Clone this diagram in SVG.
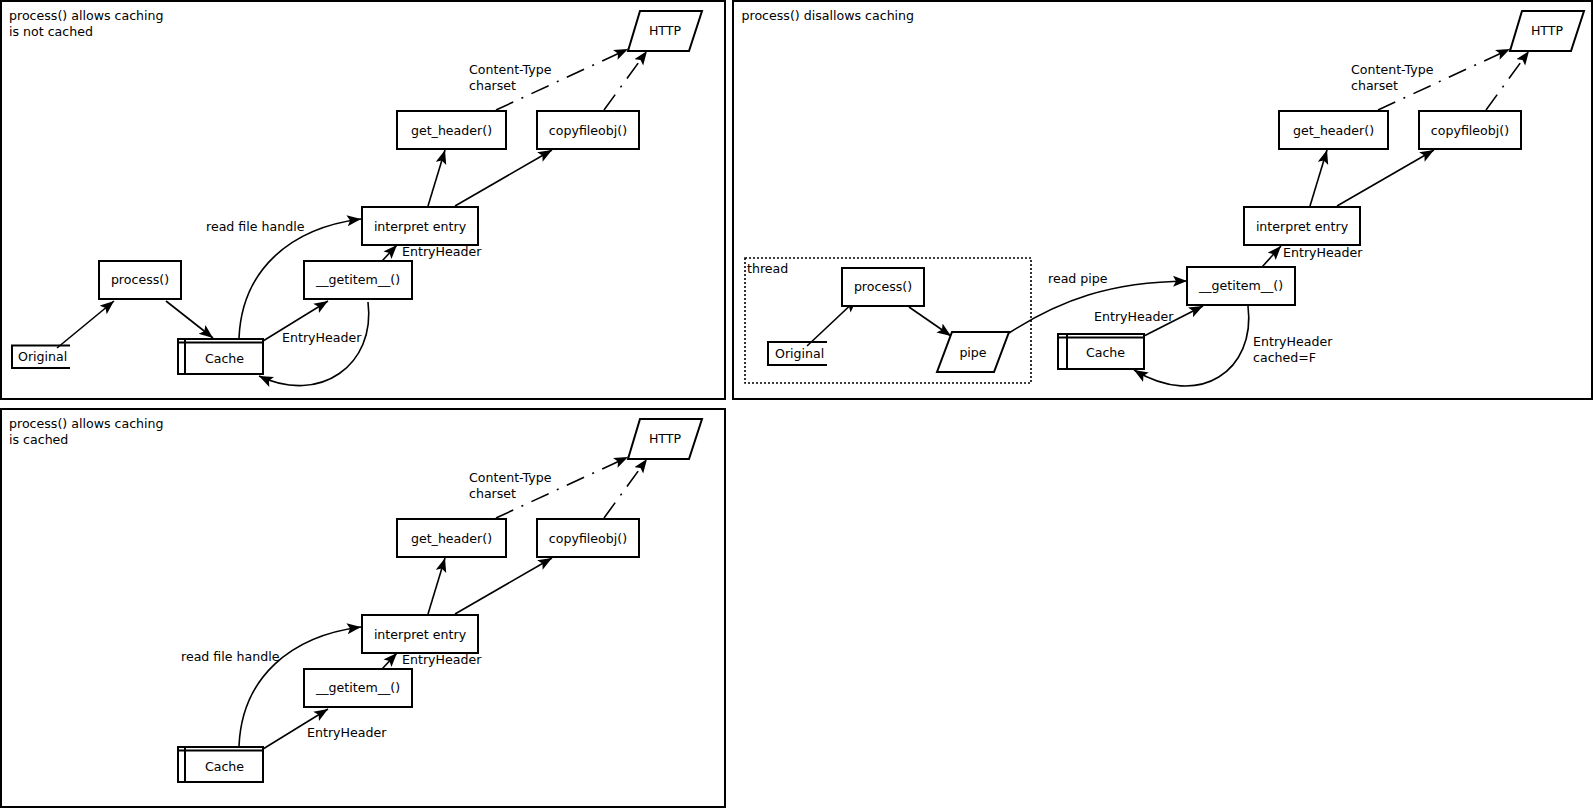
<svg xmlns="http://www.w3.org/2000/svg" width="1595" height="811" viewBox="0 0 1595 811">
<style>
text{font-family:"DejaVu Sans","Liberation Sans",sans-serif;font-size:12.6px;fill:#000}
.c{text-anchor:middle}
.box{fill:#fff;stroke:#000;stroke-width:2}
.frame{fill:#fff;stroke:#000;stroke-width:2}
.thr{fill:none;stroke:#000;stroke-width:1.6;stroke-dasharray:2 2}
.ln{fill:none;stroke:#000;stroke-width:1.6}
.e{fill:none;stroke:#000;stroke-width:1.6;marker-end:url(#ah)}
.dd{fill:none;stroke:#000;stroke-width:1.6;stroke-dasharray:19 9 2 9;marker-end:url(#ah)}
</style>
<defs>
<marker id="ah" markerUnits="userSpaceOnUse" markerWidth="16" markerHeight="12" refX="14" refY="5.5" orient="auto">
<path d="M0,0 L14,5.5 L0,11 L3,5.5 z" fill="#000"/>
</marker>
</defs>
<rect width="1595" height="811" fill="#fff"/>

<!-- Panel frames -->
<g id="panels">
<rect class="frame" x="1" y="1" width="724" height="398"/>
<rect class="frame" x="733" y="1" width="859" height="398"/>
<rect class="frame" x="1" y="409" width="724" height="398"/>
<text x="9" y="20">process() allows caching</text>
<text x="9" y="35.5">is not cached</text>
<text x="741.5" y="20">process() disallows caching</text>
<text x="9" y="428">process() allows caching</text>
<text x="9" y="443.5">is cached</text>
</g>

<!-- Panel 1 -->
<g id="p1">
<g id="p1-connectors">
<path class="e" d="M57,348 L114,301"/>
<path class="e" d="M166,301 L213,338"/>
<path class="e" d="M263,341 L328,301"/>
<path class="e" d="M239,338 C242,270 290,228 361,219"/>
<path class="e" d="M368,302 C376,365 320,405 259,376"/>
<path class="e" d="M382,261 L397,245"/>
<path class="e" d="M428,206 L445,150"/>
<path class="e" d="M455,206 L552,150"/>
<path class="dd" d="M496,110 L628,49"/>
<path class="dd" d="M604,110 L647,51"/>
<text x="206" y="231">read file handle</text>
<text x="282" y="341.5">EntryHeader</text>
<text x="402" y="256">EntryHeader</text>
<text x="469" y="73.5">Content-Type</text>
<text x="469" y="89.5">charset</text>
</g>
<g id="p1-original"><path class="ln" d="M70,345.5 H12 V368 H70" style="stroke-width:2"/><text x="18" y="361">Original</text></g>
<g id="p1-process"><rect class="box" x="99" y="261" width="82" height="38"/><text class="c" x="140" y="284">process()</text></g>
<g id="p1-cache"><rect class="box" x="178" y="339" width="85" height="35"/><path class="ln" d="M185,339 V374 M178,342.5 H263" style="stroke-width:2"/><text class="c" x="224.5" y="362.5">Cache</text></g>
<g id="p1-getitem"><rect class="box" x="304" y="261" width="108" height="38"/><text class="c" x="358" y="284">__getitem__()</text></g>
<g id="p1-interpret"><rect class="box" x="362" y="207" width="116" height="38"/><text class="c" x="420" y="230.5">interpret entry</text></g>
<g id="p1-getheader"><rect class="box" x="397" y="111" width="109" height="38"/><text class="c" x="451.5" y="134.5">get_header()</text></g>
<g id="p1-copyfileobj"><rect class="box" x="537" y="111" width="102" height="38"/><text class="c" x="588" y="134.5">copyfileobj()</text></g>
<g id="p1-http"><polygon class="box" points="640,11 702,11 689,51 628,51"/><text class="c" x="665" y="34.5">HTTP</text></g>
</g>

<!-- Panel 2 -->
<g id="p2">
<g id="p2-thread"><rect class="thr" x="745" y="258" width="286" height="125"/><text x="747" y="273">thread</text></g>
<g id="p2-connectors">
<path class="e" d="M807,346 L857,299"/>
<path class="e" d="M909,307 L951,336"/>
<path class="e" d="M1009,333 C1060,300 1110,282 1187,281"/>
<path class="e" d="M1144,336 L1203,306"/>
<path class="e" d="M1248,306 C1256,370 1200,410 1134,370"/>
<path class="e" d="M1262,267 L1281,246"/>
<path class="e" d="M1310,206 L1327,150"/>
<path class="e" d="M1337,206 L1434,150"/>
<path class="dd" d="M1378,110 L1510,49"/>
<path class="dd" d="M1486,110 L1529,51"/>
<text x="1048" y="283">read pipe</text>
<text x="1094" y="320.5">EntryHeader</text>
<text x="1283" y="256.5">EntryHeader</text>
<text x="1253" y="346">EntryHeader</text>
<text x="1253" y="361.5">cached=F</text>
<text x="1351" y="73.5">Content-Type</text>
<text x="1351" y="89.5">charset</text>
</g>
<g id="p2-original"><path class="ln" d="M827,342 H768 V365 H827" style="stroke-width:2"/><text x="775" y="357.5">Original</text></g>
<g id="p2-process"><rect class="box" x="842" y="268" width="82" height="38"/><text class="c" x="883" y="291">process()</text></g>
<g id="p2-pipe"><polygon class="box" points="952,332 1009,332 994,372 937,372"/><text class="c" x="973" y="356.5">pipe</text></g>
<g id="p2-cache"><rect class="box" x="1058" y="334" width="86" height="35"/><path class="ln" d="M1067,334 V369 M1058,337.5 H1144" style="stroke-width:2"/><text class="c" x="1105.5" y="357">Cache</text></g>
<g id="p2-getitem"><rect class="box" x="1187" y="267" width="108" height="38"/><text class="c" x="1241" y="290">__getitem__()</text></g>
<g id="p2-interpret"><rect class="box" x="1244" y="207" width="116" height="38"/><text class="c" x="1302" y="230.5">interpret entry</text></g>
<g id="p2-getheader"><rect class="box" x="1279" y="111" width="109" height="38"/><text class="c" x="1333.5" y="134.5">get_header()</text></g>
<g id="p2-copyfileobj"><rect class="box" x="1419" y="111" width="102" height="38"/><text class="c" x="1470" y="134.5">copyfileobj()</text></g>
<g id="p2-http"><polygon class="box" points="1522,11 1584,11 1571,51 1510,51"/><text class="c" x="1547" y="34.5">HTTP</text></g>
</g>

<!-- Panel 3 -->
<g id="p3" transform="translate(0,408)">
<g id="p3-connectors">
<path class="e" d="M263,341 L328,301"/>
<path class="e" d="M239,338 C242,270 290,228 361,219"/>
<path class="e" d="M382,261 L397,245"/>
<path class="e" d="M428,206 L445,150"/>
<path class="e" d="M455,206 L552,150"/>
<path class="dd" d="M496,110 L628,49"/>
<path class="dd" d="M604,110 L647,51"/>
<text x="181" y="252.5">read file handle</text>
<text x="307" y="329">EntryHeader</text>
<text x="402" y="256">EntryHeader</text>
<text x="469" y="73.5">Content-Type</text>
<text x="469" y="89.5">charset</text>
</g>
<g id="p3-cache"><rect class="box" x="178" y="339" width="85" height="35"/><path class="ln" d="M185,339 V374 M178,342.5 H263" style="stroke-width:2"/><text class="c" x="224.5" y="362.5">Cache</text></g>
<g id="p3-getitem"><rect class="box" x="304" y="261" width="108" height="38"/><text class="c" x="358" y="284">__getitem__()</text></g>
<g id="p3-interpret"><rect class="box" x="362" y="207" width="116" height="38"/><text class="c" x="420" y="230.5">interpret entry</text></g>
<g id="p3-getheader"><rect class="box" x="397" y="111" width="109" height="38"/><text class="c" x="451.5" y="134.5">get_header()</text></g>
<g id="p3-copyfileobj"><rect class="box" x="537" y="111" width="102" height="38"/><text class="c" x="588" y="134.5">copyfileobj()</text></g>
<g id="p3-http"><polygon class="box" points="640,11 702,11 689,51 628,51"/><text class="c" x="665" y="34.5">HTTP</text></g>
</g>
</svg>
